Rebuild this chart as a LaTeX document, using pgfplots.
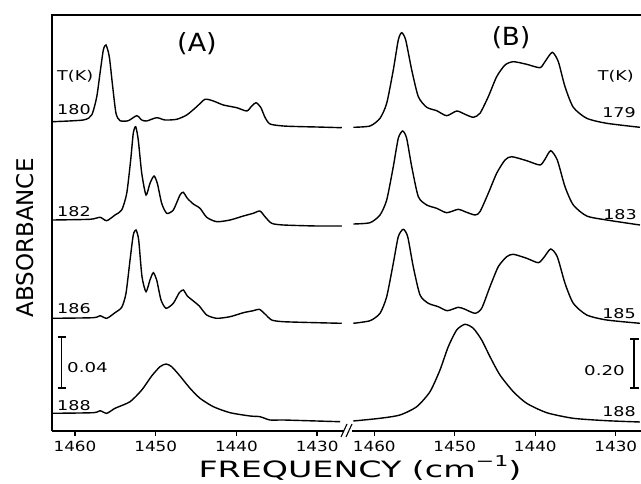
\documentclass[border=0pt]{standalone}
\usepackage{fontspec}
\setmainfont{DejaVu Sans}
\usepackage{graphicx}
\usepackage{pgfplots}
\pgfplotsset{compat=1.18}
\newcommand\sx[2]{\scalebox{#1}[1]{#2}}
\newcommand\labfont{\fontsize{13.5}{13.5}\selectfont}
\begin{document}
\begin{tikzpicture}
\path[use as bounding box] (0,0) rectangle (641pt,483pt);
\pgfplotsset{
  tr/.style={black, line width=1.4pt, smooth, tension=0.4, mark=none},
  spec/.style={
    scale only axis, height=416pt, ymin=0, ymax=416,
    x dir=reverse, axis line style={draw=none},
    ytick=\empty, xtick={1430,1440,1450,1460},
    xticklabels={\sx{1.2}{1430},\sx{1.2}{1440},\sx{1.2}{1450},\sx{1.2}{1460}},
    xtick pos=bottom, tick align=outside, major tick length=5pt,
    every tick/.style={black, line width=1.3pt},
    xticklabel style={font=\fontsize{14}{14}\selectfont, yshift=-2pt},
    clip=false,
  }
}
% Panel A
\begin{axis}[spec, at={(52pt,52pt)}, anchor=south west, width=295pt, xmin=1426.3, xmax=1462.85]
\addplot[tr] coordinates {(1462.8,309.3) (1458.97,311) (1457.93,316) (1457.31,334) (1456.90,357.7) (1456.49,381) (1456.16,386) (1455.75,374.3) (1455.33,344.3) (1454.92,317.7) (1454.42,310.3) (1453.40,310.3) (1452.35,315.3) (1451.73,311) (1451.12,310) (1449.88,313.3) (1448.85,311) (1447.40,311.7) (1446.16,316) (1444.92,324.3) (1443.89,331.7) (1442.86,330) (1441.62,326) (1439.96,323.3) (1438.72,320) (1438.10,325) (1437.57,328.3) (1436.99,323.7) (1436.46,313.7) (1435.84,307) (1434.19,305) (1431.71,304.3) (1430.05,304) (1426.95,303.3)};
\addplot[tr] coordinates {(1462.8,211) (1458.14,211.7) (1456.90,213.7) (1456.07,210.3) (1455.04,216) (1454.21,221) (1453.59,237.7) (1453.10,271) (1452.78,297.7) (1452.48,304.3) (1452.16,291) (1451.73,257.7) (1451.20,236) (1450.71,247.7) (1450.21,255) (1449.80,247.7) (1449.26,227.7) (1448.64,217.7) (1447.82,221) (1446.99,236) (1446.58,238.7) (1446.08,232.7) (1445.34,227) (1444.51,222.7) (1443.68,213.7) (1442.44,209.3) (1440.79,211) (1439.14,215) (1437.91,217.7) (1437.08,220) (1436.46,214.3) (1435.63,207.7) (1434.19,206) (1430.05,205) (1426.95,205)};
\addplot[tr] coordinates {(1462.8,112.7) (1457.73,113.3) (1456.90,115.3) (1456.07,112.7) (1455.04,118.3) (1454.21,123.7) (1453.68,137.7) (1453.18,171) (1452.78,196) (1452.44,201) (1452.11,191) (1451.70,154.3) (1451.20,139.3) (1450.71,151) (1450.30,158.3) (1449.88,151) (1449.34,131) (1448.72,122.7) (1447.82,127.7) (1447.08,138.3) (1446.58,141) (1446.08,135) (1445.34,130) (1444.60,125) (1443.68,116) (1442.44,112.7) (1440.79,114.3) (1439.14,118.3) (1437.91,120.3) (1437.16,121.7) (1436.46,117) (1435.63,111) (1434.19,109.3) (1430.05,108.3) (1426.95,107.7)};
\addplot[tr] coordinates {(1462.8,17.7) (1457.73,18.3) (1456.90,20.3) (1456.07,17.7) (1455.04,22.7) (1453.18,29.3) (1451.73,41) (1450.50,55) (1449.47,64.3) (1448.72,67) (1448.02,64.3) (1446.99,55) (1445.75,42.7) (1444.51,32.7) (1442.86,24.3) (1440.79,18.3) (1438.31,15) (1437.08,14.3) (1435.84,11) (1434.19,11) (1430.05,10) (1427.16,9.3)};
\end{axis}
% Panel B
\begin{axis}[spec, at={(352pt,52pt)}, anchor=south west, width=289pt, xmin=1426.87, xmax=1462.77]
\addplot[tr] coordinates {(1462.61,303.7) (1460.53,305) (1459.29,312.7) (1458.46,327.7) (1457.64,361) (1457.02,391) (1456.60,398.3) (1456.10,391) (1455.35,361) (1454.53,334.3) (1453.49,323.7) (1452.25,320.3) (1451.01,315.3) (1449.76,320) (1448.73,316.7) (1447.70,313.7) (1446.87,317.7) (1445.84,334.3) (1444.80,354.3) (1443.76,366) (1442.73,369.3) (1441.07,366.7) (1439.42,363.3) (1438.80,369.3) (1437.89,378.7) (1437.14,369.3) (1436.31,344.3) (1435.28,323.7) (1433.61,312.7) (1431.13,307.7) (1427.00,303.7)};
\addplot[tr] coordinates {(1462.61,207) (1460.53,208.3) (1459.29,216) (1458.46,231) (1457.64,264.3) (1457.02,292.7) (1456.47,300) (1455.98,292.7) (1455.35,264.3) (1454.53,234.3) (1453.49,226) (1452.25,222.7) (1451.01,218.3) (1449.57,221.7) (1448.73,219.3) (1447.49,216) (1446.87,219.3) (1445.84,237.7) (1444.80,257.7) (1443.76,271) (1442.93,274.3) (1441.07,270.3) (1439.42,266) (1438.80,271.7) (1438.09,280.3) (1437.27,271) (1436.31,244.3) (1435.28,226) (1433.61,215) (1431.13,211) (1427.00,206)};
\addplot[tr] coordinates {(1462.61,107.7) (1460.53,110.3) (1459.29,117.7) (1458.46,134.3) (1457.64,167.7) (1457.02,194.3) (1456.40,201.7) (1455.85,194.3) (1455.16,164.3) (1454.32,136) (1453.29,127.7) (1452.05,124.3) (1450.93,120.3) (1449.57,123.7) (1448.73,121.7) (1447.49,117.7) (1446.66,122.7) (1445.63,144.3) (1444.60,164.3) (1443.55,174.3) (1442.73,176.7) (1441.07,172.7) (1439.63,168.3) (1438.92,173.7) (1438.09,182) (1437.27,174.3) (1436.31,147.7) (1435.28,127.7) (1433.61,116) (1431.13,111) (1427.00,107.7)};
\addplot[tr] coordinates {(1462.61,10) (1459.29,12.7) (1456.81,16) (1454.73,24.3) (1453.08,39.3) (1451.84,61) (1450.81,84.3) (1449.76,101) (1448.73,106.7) (1447.70,102.7) (1446.66,91) (1445.63,74.3) (1444.39,56) (1442.73,39.3) (1441.07,27.7) (1438.58,18.3) (1435.28,12.7) (1431.13,10.3) (1427.00,9)};
\end{axis}
% frame
\draw[line width=1.6pt] (52pt,52pt) -- (52pt,468pt) -- (641pt,468pt);
\draw[line width=1.6pt] (52pt,52pt) -- (344pt,52pt);
\draw[line width=1.6pt] (352pt,52pt) -- (641pt,52pt);
\draw[line width=1.1pt] (341pt,46pt) -- (347pt,59pt);
\draw[line width=1.1pt] (346pt,46pt) -- (352pt,59pt);
% scale bars
\draw[line width=1.3pt] (57.5pt,95pt) -- (66pt,95pt) (61.7pt,95pt) -- (61.7pt,146pt) (57.5pt,146pt) -- (66pt,146pt);
\draw[line width=1.3pt] (629.5pt,95pt) -- (638.5pt,95pt) (634pt,95pt) -- (634pt,144pt) (629.5pt,144pt) -- (638.5pt,144pt);
% labels
\node[rotate=90, font=\fontsize{23}{23}\selectfont] at (25pt,245pt) {ABSORBANCE};
\node[anchor=base, font=\fontsize{22.5}{22.5}\selectfont] at (360pt,6pt) {\sx{1.48}{FREQUENCY (cm\raisebox{0.45em}{\fontsize{15}{15}\selectfont −1})}};
\node[font=\fontsize{25}{25}\selectfont] at (197pt,439pt) {\sx{1.08}{(A)}};
\node[font=\fontsize{25}{25}\selectfont] at (511pt,445pt) {\sx{1.05}{(B)}};
\begin{scope}[every node/.style={font=\labfont, inner sep=0pt}]
\node[anchor=west] at (57pt,407pt) {\sx{1.3}{T(K)}};
\node[anchor=west] at (57pt,373pt) {\sx{1.3}{180}};
\node[anchor=west] at (57pt,271pt) {\sx{1.3}{182}};
\node[anchor=west] at (57pt,174pt) {\sx{1.3}{186}};
\node[anchor=west] at (57pt,77.5pt) {\sx{1.3}{188}};
\node[anchor=west] at (67pt,115pt) {\sx{1.35}{0.04}};
\node[anchor=east] at (634pt,407pt) {\sx{1.3}{T(K)}};
\node[anchor=east] at (636pt,370pt) {\sx{1.3}{179}};
\node[anchor=east] at (637pt,268pt) {\sx{1.3}{183}};
\node[anchor=east] at (636pt,169.5pt) {\sx{1.3}{185}};
\node[anchor=east] at (636pt,71pt) {\sx{1.3}{188}};
\node[anchor=east] at (625pt,112pt) {\sx{1.35}{0.20}};
\end{scope}
\end{tikzpicture}
\end{document}
